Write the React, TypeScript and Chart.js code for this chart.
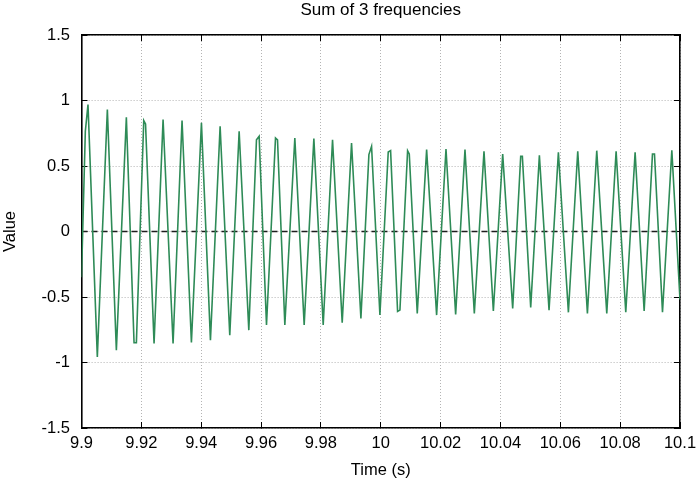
import React, { useEffect, useRef } from "react";
import { Chart, registerables } from "chart.js";

Chart.register(...registerables);

// ---- data ----
const chartTitle = "Sum of 3 frequencies";
const xAxisTitle = "Time (s)";
const yAxisTitle = "Value";

// polyline vertices of the signal (time in s, value)
const timeS = [
  9.9, 9.90128, 9.90217, 9.90529, 9.90864, 9.91165, 9.91499, 9.91756, 9.91834, 9.9208,
  9.9214, 9.92425, 9.92726, 9.9306, 9.9336, 9.93673, 9.94008, 9.94309, 9.94632, 9.94955,
  9.95268, 9.95591, 9.95847, 9.95936, 9.96182, 9.96483, 9.9655, 9.96795, 9.97129, 9.97441,
  9.97765, 9.98077, 9.98389, 9.98712, 9.99024, 9.99337, 9.99604, 9.99693, 9.99972, 10.0025,
  10.00329, 10.00563, 10.00641, 10.00897, 10.00953, 10.0122, 10.01533, 10.01867, 10.0218, 10.02503,
  10.02815, 10.03127, 10.0345, 10.03763, 10.04075, 10.04409, 10.04677, 10.04732, 10.05011, 10.05301,
  10.05624, 10.05936, 10.06271, 10.06583, 10.06906, 10.07218, 10.07553, 10.07865, 10.08188, 10.085,
  10.08802, 10.0908, 10.09147, 10.09415, 10.09727, 10.1,
];
const valueS = [
  -0.35, 0.765, 0.969, -0.957, 0.931, -0.906, 0.872, -0.849, -0.849, 0.847,
  0.82, -0.855, 0.855, -0.855, 0.847, -0.847, 0.829, -0.829, 0.804, -0.791,
  0.765, -0.753, 0.7, 0.727, -0.714, 0.714, 0.7, -0.714, 0.714, -0.714,
  0.709, -0.714, 0.7, -0.696, 0.676, -0.663, 0.587, 0.65, -0.638, 0.607,
  0.617, -0.61, -0.6, 0.617, 0.592, -0.625, 0.625, -0.638, 0.63, -0.633,
  0.625, -0.625, 0.612, -0.607, 0.592, -0.587, 0.574, 0.574, -0.579, 0.582,
  -0.6, 0.605, -0.617, 0.612, -0.625, 0.617, -0.625, 0.612, -0.617, 0.605,
  -0.607, 0.592, 0.592, -0.617, 0.62, -0.52,
];

// dashed zero line
const zeroLineT = [9.9, 10.1];
const zeroLineV = [0, 0];

// ticks
const xTickValues = [9.9, 9.92, 9.94, 9.96, 9.98, 10, 10.02, 10.04, 10.06, 10.08, 10.1];
const xTickLabels = ["9.9", "9.92", "9.94", "9.96", "9.98", "10", "10.02", "10.04", "10.06", "10.08", "10.1"];
const yTickValues = [-1.5, -1, -0.5, 0, 0.5, 1, 1.5];
const yTickLabels = ["-1.5", "-1", "-0.5", "0", "0.5", "1", "1.5"];

const FONT = "'Liberation Sans', Arial, Helvetica, sans-serif";

export default function App() {
  const canvasRef = useRef<HTMLCanvasElement | null>(null);

  useEffect(() => {
    const canvas = canvasRef.current;
    if (!canvas) return;

    const signal = timeS.map((t, i) => ({ x: t, y: valueS[i] }));
    const zero = zeroLineT.map((t, i) => ({ x: t, y: zeroLineV[i] }));

    const setXTicks = (s: any) => {
      s.ticks = xTickValues.map((v) => ({ value: v }));
    };
    const setYTicks = (s: any) => {
      s.ticks = yTickValues.map((v) => ({ value: v }));
    };
    const noPad = (s: any) => {
      s.paddingLeft = 0;
      s.paddingRight = 0;
      s.paddingTop = 0;
      s.paddingBottom = 0;
    };

    const gridCommon = {
      color: "#b4b4b4",
      lineWidth: 1,
      tickLength: -6,
      tickColor: "#000",
      tickWidth: 1,
    };
    const borderCommon = { display: true, color: "#000", width: 1.6, dash: [1, 2] };

    const chart = new Chart(canvas, {
      type: "line",
      data: {
        datasets: [
          {
            data: signal,
            borderColor: "#2e8b57",
            borderWidth: 1.6,
            pointRadius: 0,
            tension: 0,
            fill: false,
            order: 0,
            xAxisID: "x",
            yAxisID: "y",
          },
          {
            data: zero,
            borderColor: "#1e1e1e",
            borderWidth: 1.5,
            borderDash: [6, 4],
            pointRadius: 0,
            tension: 0,
            fill: false,
            order: 1,
            xAxisID: "x",
            yAxisID: "y",
          },
        ],
      },
      options: {
        responsive: false,
        animation: false,
        events: [],
        layout: { padding: 0 },
        plugins: {
          legend: { display: false },
          tooltip: { enabled: false },
          title: {
            display: true,
            text: chartTitle,
            fullSize: false,
            color: "#000",
            font: { family: FONT, size: 17, weight: "normal" },
            padding: { top: 0, bottom: 14.6 },
          },
        },
        scales: {
          x: {
            type: "linear",
            position: "bottom",
            min: 9.9,
            max: 10.1,
            afterBuildTicks: setXTicks,
            afterFit: (s: any) => {
              s.height = 55;
              noPad(s);
            },
            grid: { ...gridCommon, drawOnChartArea: true },
            border: borderCommon,
            ticks: {
              autoSkip: false,
              maxRotation: 0,
              padding: 12,
              color: "#000",
              font: { family: FONT, size: 16.5 },
              callback: (_v: any, i: number) => xTickLabels[i],
            },
            title: {
              display: true,
              text: xAxisTitle,
              color: "#000",
              font: { family: FONT, size: 16.5 },
              padding: { top: 2.3, bottom: 2.3 },
            },
          },
          y: {
            type: "linear",
            position: "left",
            min: -1.5,
            max: 1.5,
            afterBuildTicks: setYTicks,
            afterFit: (s: any) => {
              s.width = 81.5;
              noPad(s);
            },
            grid: { ...gridCommon, drawOnChartArea: true },
            border: borderCommon,
            ticks: {
              autoSkip: false,
              padding: 17.5,
              color: "#000",
              font: { family: FONT, size: 16.5 },
              callback: (_v: any, i: number) => yTickLabels[i],
            },
            title: {
              display: true,
              text: yAxisTitle,
              color: "#000",
              font: { family: FONT, size: 16.5 },
              padding: { top: 1, bottom: 1 },
            },
          },
          xTop: {
            type: "linear",
            position: "top",
            min: 9.9,
            max: 10.1,
            afterBuildTicks: setXTicks,
            afterFit: (s: any) => {
              s.height = 0;
              noPad(s);
            },
            grid: { ...gridCommon, drawOnChartArea: false },
            border: borderCommon,
            ticks: { display: false },
          },
          yRight: {
            type: "linear",
            position: "right",
            min: -1.5,
            max: 1.5,
            afterBuildTicks: setYTicks,
            afterFit: (s: any) => {
              s.width = 18;
              noPad(s);
            },
            grid: { ...gridCommon, drawOnChartArea: false },
            border: borderCommon,
            ticks: { display: false },
          },
        },
      } as any,
    });

    return () => {
      chart.destroy();
    };
  }, []);

  return (
    <div style={{ position: "fixed", left: 0, top: 0, width: 698, height: 483, background: "#fff" }}>
      <canvas ref={canvasRef} width={698} height={483} style={{ display: "block" }} />
    </div>
  );
}
